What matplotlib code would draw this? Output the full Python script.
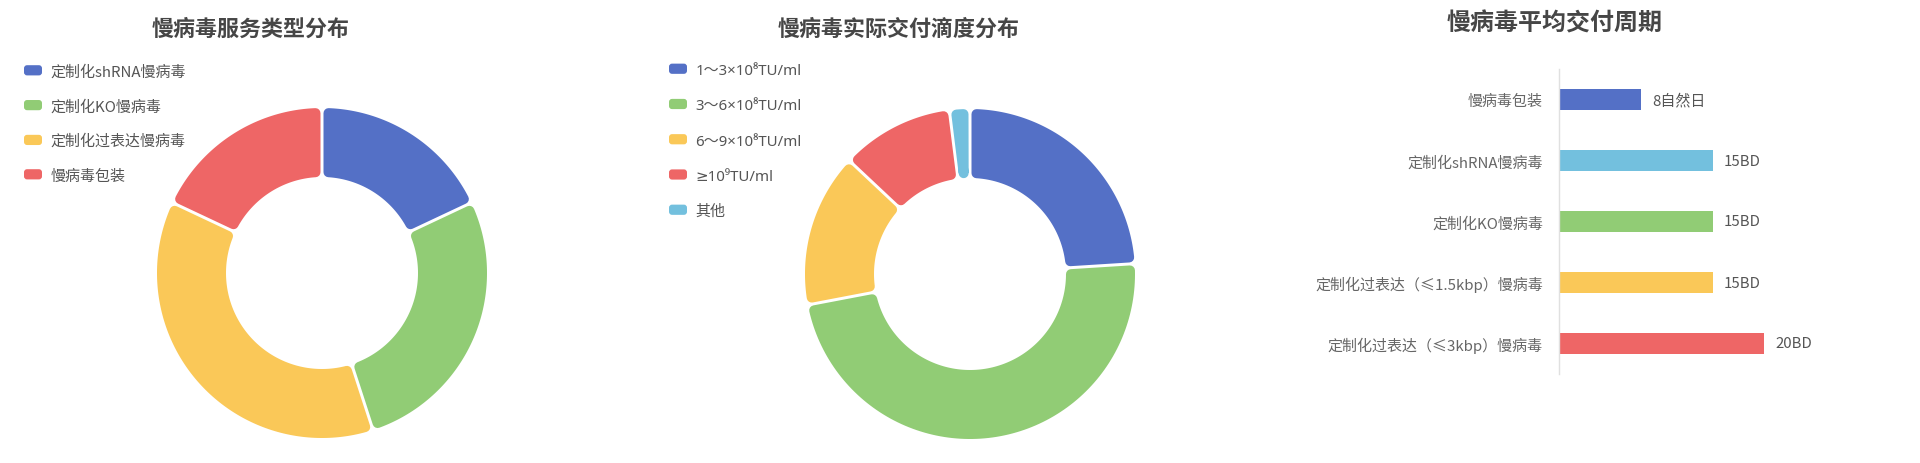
import numpy as np
import matplotlib
matplotlib.use("Agg")
import matplotlib.pyplot as plt
from matplotlib.patches import Patch, PathPatch, FancyBboxPatch
from matplotlib.path import Path
from matplotlib.legend_handler import HandlerPatch

plt.rcParams['font.family'] = ['Noto Sans CJK SC', 'DejaVu Sans']

# ---------------- data ----------------
service_labels = ["定制化shRNA慢病毒", "定制化KO慢病毒", "定制化过表达慢病毒", "慢病毒包装"]
service_values = [18, 27, 37, 18]
service_colors = ["#5470c6", "#91cc75", "#fac858", "#ee6666"]

titer_labels = ["1～3×10⁸TU/ml", "3～6×10⁸TU/ml", "6～9×10⁸TU/ml", "≥10⁹TU/ml", "其他"]
titer_values = [24, 48, 15, 11, 2]
titer_colors = ["#5470c6", "#91cc75", "#fac858", "#ee6666", "#73c0de"]

cycle_labels = ["慢病毒包装", "定制化shRNA慢病毒", "定制化KO慢病毒",
                "定制化过表达（≤1.5kbp）慢病毒", "定制化过表达（≤3kbp）慢病毒"]
cycle_values = [8, 15, 15, 15, 20]
cycle_texts = ["8自然日", "15BD", "15BD", "15BD", "20BD"]
cycle_colors = ["#5470c6", "#73c0de", "#91cc75", "#fac858", "#ee6666"]

titles = ["慢病毒服务类型分布", "慢病毒实际交付滴度分布", "慢病毒平均交付周期"]

# ---------------- layout ----------------
W, H = 1920, 464
DPI = 100
PX = 72.0 / DPI  # points per pixel
fig = plt.figure(figsize=(W / DPI, H / DPI), dpi=DPI)
fig.patch.set_facecolor("white")

R_OUT, R_IN = 165, 96
GAP, ROUND = 3.0, 5.0


def rounded_ring(ax, t1, t2, color):
    ro = R_OUT - ROUND
    ri = R_IN + ROUND
    d = GAP / 2 + ROUND
    ao1 = t1 + np.degrees(np.arcsin(d / ro))
    ao2 = t2 - np.degrees(np.arcsin(d / ro))
    ai1 = t1 + np.degrees(np.arcsin(d / ri))
    ai2 = t2 - np.degrees(np.arcsin(d / ri))
    if ai2 < ai1:
        m = (ai1 + ai2) / 2
        ai1 = ai2 = m
    ta = np.radians(np.linspace(ao1, ao2, 120))
    tb = np.radians(np.linspace(ai2, ai1, 120))
    xs = np.concatenate([ro * np.cos(ta), ri * np.cos(tb)])
    ys = np.concatenate([ro * np.sin(ta), ri * np.sin(tb)])
    verts = np.column_stack([xs, ys])
    verts = np.vstack([verts, verts[:1]])
    codes = [Path.MOVETO] + [Path.LINETO] * (len(verts) - 2) + [Path.CLOSEPOLY]
    p = PathPatch(Path(verts, codes), facecolor=color, edgecolor=color,
                  linewidth=2 * ROUND * PX, joinstyle="round")
    ax.add_patch(p)


def round_handle(legend, orig_handle, xdescent, ydescent, width, height, fontsize):
    return FancyBboxPatch((-xdescent, -ydescent), width, height,
                          boxstyle="round,pad=0,rounding_size=%f" % (height * 0.3))


def donut(cx, cy, values, colors, labels, leg_x, leg_y, leg_family):
    S = 180
    ax = fig.add_axes([(cx - S) / W, (H - cy - S) / H, 2 * S / W, 2 * S / H])
    wedges, _ = ax.pie(values, colors=colors, startangle=90, counterclock=False,
                       radius=R_OUT, wedgeprops=dict(width=R_OUT - R_IN))
    for w, c in zip(wedges, colors):
        w.set_visible(False)
        rounded_ring(ax, w.theta1, w.theta2, c)
    ax.set_xlim(-S, S)
    ax.set_ylim(-S, S)
    ax.set_aspect("equal")
    ax.axis("off")
    handles = [Patch(facecolor=c, edgecolor="none") for c in colors]
    leg = ax.legend(handles, labels, loc="upper left",
                    bbox_to_anchor=(leg_x / W, 1 - leg_y / H),
                    bbox_transform=fig.transFigure, frameon=False,
                    borderpad=0, borderaxespad=0,
                    prop=dict(family=leg_family, size=15 * PX),
                    handlelength=1.2, handleheight=0.67, handletextpad=0.55,
                    labelspacing=1.35,
                    handler_map={Patch: HandlerPatch(patch_func=round_handle)})
    for t in leg.get_texts():
        t.set_color("#555555")
    return ax


donut(322, 274, service_values, service_colors, service_labels, 24, 65,
      ['Noto Sans CJK SC', 'DejaVu Sans'])
donut(970, 275, titer_values, titer_colors, titer_labels, 669, 64,
      ['Noto Sans', 'DejaVu Sans', 'Noto Sans CJK SC'])

# ---------------- bar chart ----------------
ax3 = fig.add_axes([1559 / W, (H - 375) / H, 307.5 / W, 305 / H])
ypos = np.arange(len(cycle_labels))
bars = ax3.barh(ypos, cycle_values, height=0.35, color=cycle_colors)
ax3.set_xlim(0, 30)
ax3.set_ylim(len(cycle_labels) - 0.5, -0.5)
ax3.set_yticks(ypos)
ax3.set_yticklabels(cycle_labels, fontsize=15 * PX, color="#666666")
ax3.tick_params(axis="y", length=0, pad=16 * PX)
ax3.set_xticks([])
for s in ["top", "right", "bottom"]:
    ax3.spines[s].set_visible(False)
ax3.spines["left"].set_color("#e0e0e0")
ax3.spines["left"].set_linewidth(1.0)
ax3.patch.set_alpha(0)
ax3.bar_label(bars, labels=cycle_texts, padding=11 * PX, fontsize=15 * PX, color="#555555")

# ---------------- titles ----------------
fig.text(251 / W, 1 - 29 / H, titles[0], ha="center", va="center",
         fontsize=22 * PX, fontweight="bold", color="#464646")
fig.text(899 / W, 1 - 29 / H, titles[1], ha="center", va="center",
         fontsize=22 * PX, fontweight="bold", color="#464646")
fig.text(1555 / W, 1 - 23 / H, titles[2], ha="center", va="center",
         fontsize=24 * PX, fontweight="bold", color="#464646")

fig.savefig("out.png", dpi=DPI, facecolor="white")
